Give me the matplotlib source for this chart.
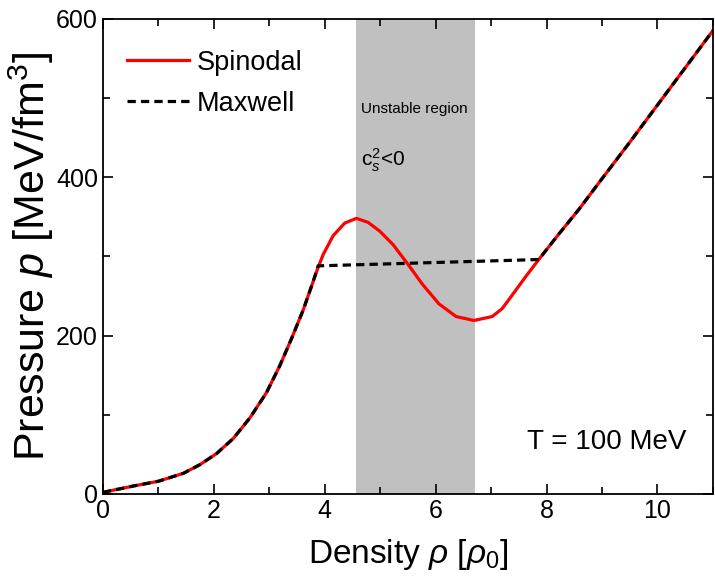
import numpy as np
import matplotlib
matplotlib.use('Agg')
import matplotlib.pyplot as plt
from matplotlib.ticker import MultipleLocator

plt.rcParams['font.family'] = ['Liberation Sans', 'DejaVu Sans']
plt.rcParams['mathtext.fontset'] = 'custom'
plt.rcParams['mathtext.rm'] = 'Liberation Sans'
plt.rcParams['mathtext.it'] = 'Liberation Sans:italic'
plt.rcParams['mathtext.bf'] = 'Liberation Sans:bold'

# Spinodal curve
rho_sp = [0, 0.55, 1.0, 1.45, 1.75, 2.05, 2.35, 2.65, 2.95, 3.19, 3.40, 3.61, 3.79,
          3.88, 3.97, 4.15, 4.36, 4.57, 4.78, 4.99, 5.23, 5.49, 5.76, 6.06,
          6.37, 6.69, 7.02, 7.2, 7.38, 7.62, 7.86, 8.22, 8.58, 9.0, 9.5, 10.0,
          10.5, 11.0]
p_sp = [2, 10, 16, 26, 37, 51, 70, 96, 128, 162, 196, 232, 268,
        286, 302, 326, 342, 348, 343, 332, 315, 291, 265, 240,
        224, 219, 224, 234, 251, 274, 296, 328, 359, 398, 444, 491,
        538, 585]

# Maxwell construction
rho_mx = [0, 0.55, 1.0, 1.45, 1.75, 2.05, 2.35, 2.65, 2.95, 3.19, 3.40, 3.61, 3.79,
          3.88, 7.86, 8.22, 8.58, 9.0, 9.5, 10.0, 10.5, 11.0]
p_mx = [2, 10, 16, 26, 37, 51, 70, 96, 128, 162, 196, 232, 268,
        288, 296, 328, 359, 398, 444, 491, 538, 585]

unstable = (4.56, 6.71)

fig = plt.figure(figsize=(7.15, 5.88), dpi=100)
ax = fig.add_axes([0.144, 0.160, 0.853, 0.808])

ax.axvspan(unstable[0], unstable[1], color='#c0c0c0', lw=0, zorder=0)
ax.plot(rho_sp, p_sp, color='red', lw=2.3, label='Spinodal', zorder=2,
        solid_joinstyle='round')
ax.plot(rho_mx, p_mx, color='black', lw=2.3, ls=(0, (2.6, 1.6)), label='Maxwell', zorder=3)

ax.set_xlim(0, 11)
ax.set_ylim(0, 600)
ax.xaxis.set_major_locator(MultipleLocator(2))
ax.xaxis.set_minor_locator(MultipleLocator(1))
ax.yaxis.set_major_locator(MultipleLocator(200))
ax.yaxis.set_minor_locator(MultipleLocator(100))
ax.tick_params(which='both', direction='in', top=True, right=True, labelsize=18, width=1.2)
ax.tick_params(which='major', length=7)
ax.tick_params(which='minor', length=5)
for s in ax.spines.values():
    s.set_linewidth(1.3)

ax.set_xlabel(r'Density $\rho$ [$\rho_0$]', fontsize=24, labelpad=10)
ax.set_ylabel(r'Pressure $p$ [MeV/fm$^3$]', fontsize=31, labelpad=0)

ax.text(4.66, 486, 'Unstable region', fontsize=11, va='center')
ax.text(4.66, 421, r'c$_s^2$<0', fontsize=15, va='center')
ax.text(10.53, 65, 'T = 100 MeV', fontsize=20, ha='right', va='center')

ax.legend(loc='upper left', fontsize=19.5, frameon=False, handlelength=2.3,
          handletextpad=0.3, labelspacing=0.55, borderaxespad=0.3,
          bbox_to_anchor=(0.008, 0.975))

fig.savefig('out.png', dpi=100)
